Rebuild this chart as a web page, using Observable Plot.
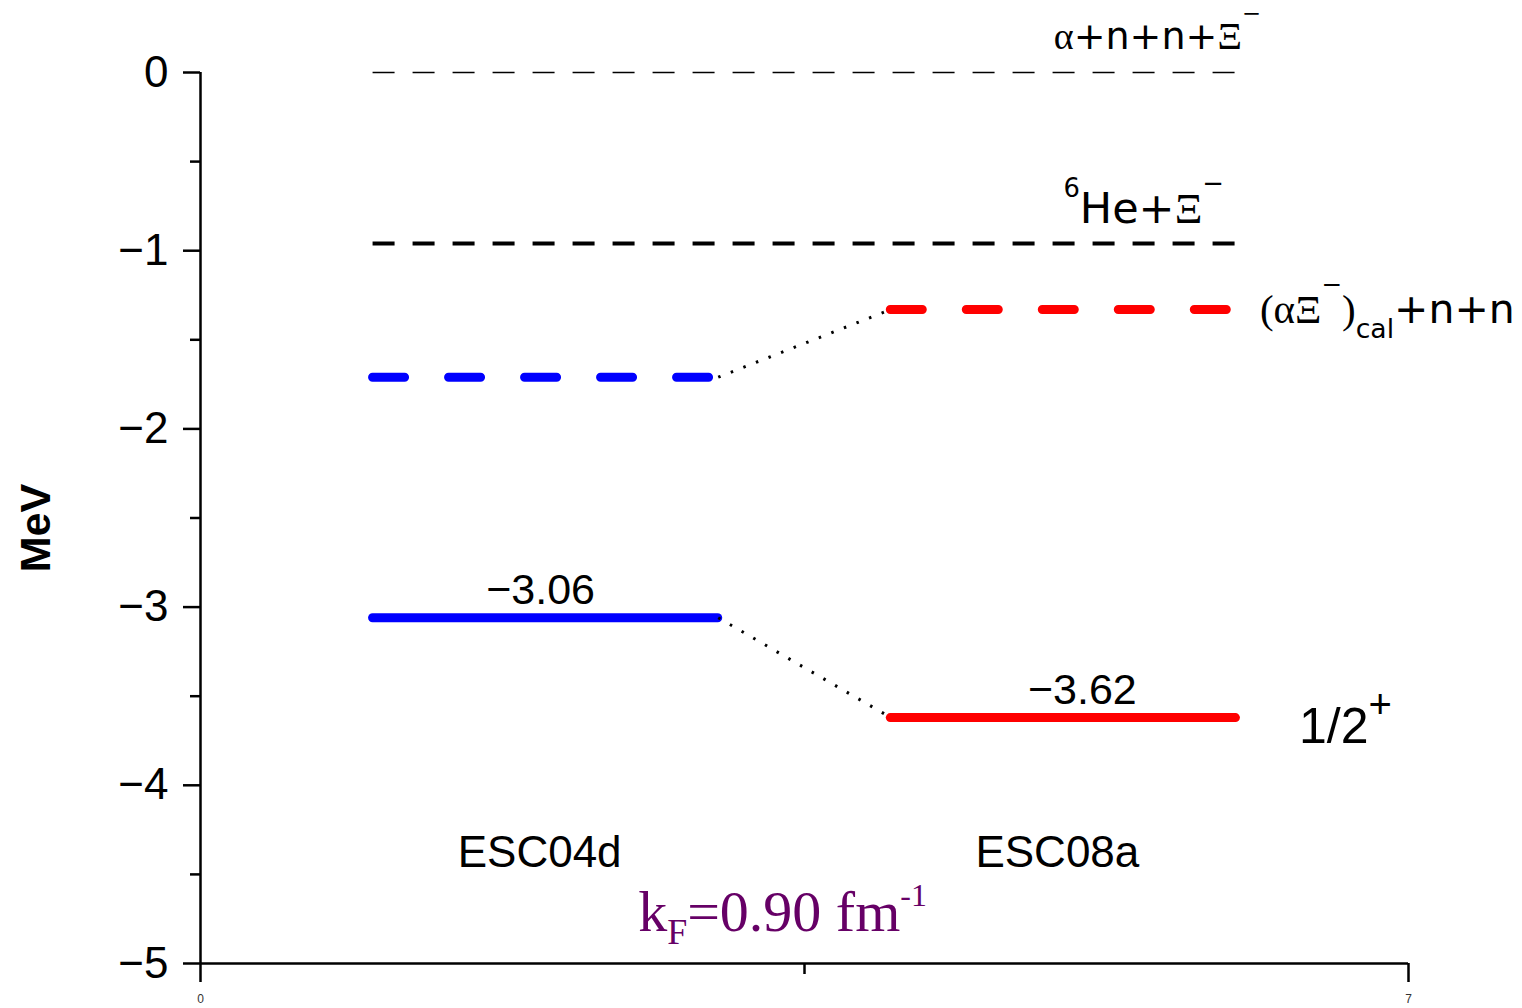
<!DOCTYPE html>
<html>
<head>
<meta charset="utf-8">
<script src="https://cdn.jsdelivr.net/npm/d3@7"></script>
<script src="https://cdn.jsdelivr.net/npm/@observablehq/plot@0.6"></script>
<style>
html, body { margin: 0; padding: 0; background: #fff; overflow: hidden; }
</style>
</head>
<body>
<div id="chart"></div>
<script>
// ---------------- data ----------------
const models = ["ESC04d", "ESC08a"];
const modelStart = [1, 4];
const modelEnd = [3, 6];
const groundState = [-3.06, -3.62];      // 1/2+ level (MeV)
const calThreshold = [-1.71, -1.33];     // (αΞ⁻)cal + n + n threshold (MeV)
const thresholdNames = ["~{α}+n+n+~{Ξ}^^{−}", "^{6}He+~{Ξ}^^{−}"];
const thresholdEnergies = [0, -0.96];
const calLabel = "~{(αΞ}^^{−}~{)}_{cal}+n+n";
const stateLabel = "1/2^[0.8,0.5]{+}";
const kfLabel = "k_[0.62,-0.24]{F}=0.90 fm^[0.55,0.42]{-1}";
const yMajorTicks = [0, -1, -2, -3, -4, -5];
const yMinorTicks = [-0.5, -1.5, -2.5, -3.5, -4.5];
const xLabelTicks = [0, 7];
const xMidTicks = [3.5];
const xDomain = [0, 7];
const yDomain = [-5, 0];

// ---------------- tables ----------------
const rows = models.map((m, i) => ({
  model: m, x1: modelStart[i], x2: modelEnd[i],
  mid: (modelStart[i] + modelEnd[i]) / 2,
  gs: groundState[i], cal: calThreshold[i]
}));
const xLo = d3.min(modelStart), xHi = d3.max(modelEnd);
const thr = thresholdNames.map((n, i) => ({name: n, e: thresholdEnergies[i], x1: xLo, x2: xHi}));
const links = [
  {x1: rows[0].x2, x2: rows[1].x1, y1: rows[0].gs, y2: rows[1].gs},
  {x1: rows[0].x2, x2: rows[1].x1, y1: rows[0].cal, y2: rows[1].cal}
];
const fmt = d3.format(".2f");
const SANS = "Liberation Sans, Arial, sans-serif";
const WIDE = "DejaVu Sans, Liberation Sans, sans-serif";
const SERIF = "Liberation Serif, Times New Roman, serif";

const svg = Plot.plot({
  width: 1522,
  height: 1008,
  marginLeft: 200,
  marginRight: 114,
  marginTop: 72,
  marginBottom: 45,
  style: {fontFamily: SANS, background: "#fff", color: "#000"},
  x: {domain: xDomain, label: null},
  y: {domain: yDomain, label: null},
  color: {domain: models, range: ["#0000ff", "#ff0000"]},
  marks: [
    // axes
    Plot.ruleX([xDomain[0]], {strokeWidth: 2.5}),
    Plot.ruleY([yDomain[0]], {strokeWidth: 2.5}),
    Plot.axisY(yMajorTicks, {tickSize: 17, tickPadding: 15, fontSize: 44, fontFamily: SANS,
      strokeWidth: 2.5, tickFormat: d3.format("d"), label: null}),
    Plot.axisY(yMinorTicks, {tickSize: 10, strokeWidth: 2.5, tickFormat: () => "", label: null}),
    Plot.axisX(xLabelTicks, {tickSize: 19, tickPadding: 12, fontSize: 12, strokeWidth: 2.5,
      tickFormat: d3.format("d"), label: null, fill: "#333"}),
    Plot.axisX(xMidTicks, {tickSize: 11, strokeWidth: 2.5, tickFormat: () => "", label: null}),

    // thresholds
    Plot.ruleY(thr.slice(0, 1), {y: "e", x1: "x1", x2: "x2", stroke: "#000", strokeWidth: 1.5, strokeDasharray: "22,18"}),
    Plot.ruleY(thr.slice(1, 2), {y: "e", x1: "x1", x2: "x2", stroke: "#000", strokeWidth: 4, strokeDasharray: "22,18"}),

    // (αΞ)cal + n + n
    Plot.ruleY(rows, {y: "cal", x1: "x1", x2: "x2", stroke: "model", strokeWidth: 9,
      strokeLinecap: "round", strokeDasharray: "32,44"}),
    // 1/2+ ground state
    Plot.ruleY(rows, {y: "gs", x1: "x1", x2: "x2", stroke: "model", strokeWidth: 9, strokeLinecap: "round"}),
    // connectors
    Plot.link(links, {x1: "x1", y1: "y1", x2: "x2", y2: "y2", stroke: "#000", strokeWidth: 3,
      strokeDasharray: "2.5,11"}),

    // labels
    Plot.text(thr.slice(0, 1), {x: "x2", y: "e", text: "name", textAnchor: "end", lineAnchor: "bottom",
      dx: 25, dy: -24, fontSize: 38, fontFamily: WIDE}),
    Plot.text(thr.slice(1, 2), {x: "x2", y: "e", text: "name", textAnchor: "end", lineAnchor: "bottom",
      dx: -12, dy: -21, fontSize: 43, fontFamily: WIDE}),
    Plot.text(rows.slice(1, 2), {x: "x2", y: "cal", text: () => calLabel, textAnchor: "start", lineAnchor: "bottom",
      dx: 24, dy: 13, fontSize: 41, fontFamily: WIDE}),
    Plot.text(rows.slice(0, 1), {x: "mid", y: "gs", text: d => fmt(d.gs), lineAnchor: "bottom",
      dx: -5, dy: -14, fontSize: 43, fontFamily: SANS}),
    Plot.text(rows.slice(1, 2), {x: "mid", y: "gs", text: d => fmt(d.gs), lineAnchor: "bottom",
      dx: 19, dy: -14, fontSize: 43, fontFamily: SANS}),
    Plot.text(rows.slice(1, 2), {x: "x2", y: "gs", text: () => stateLabel, textAnchor: "start", lineAnchor: "bottom",
      dx: 63, dy: 25, fontSize: 50, fontFamily: SANS}),
    Plot.text(rows, {x: "mid", frameAnchor: "bottom", text: "model", lineAnchor: "bottom",
      dx: -6, dy: -97, fontSize: 44, fontFamily: SANS}),
    Plot.text([kfLabel], {frameAnchor: "bottom", lineAnchor: "bottom", dx: -22, dy: -33,
      fontSize: 58, fontFamily: SERIF, fill: "#660066"}),
    Plot.text(["MeV"], {frameAnchor: "left", textAnchor: "middle", rotate: -90, dx: -164, dy: 10,
      fontSize: 43, fontWeight: "bold"})
  ]
});
document.getElementById("chart").append(svg);

// ---------------- rich text (super/subscripts, serif glyphs) ----------------
const NS = "http://www.w3.org/2000/svg";
const defaults = {"^": [0.6, 0.6, false], "^^": [0.6, 0.72, false], "_": [0.65, -0.37, false], "~": [1, 0, true]};
svg.querySelectorAll("text").forEach(t => {
  const s = t.textContent;
  if (!/(\^\^|\^|_|~)(\[[^\]]*\])?\{/.test(s)) return;
  const fs = parseFloat(getComputedStyle(t).fontSize);
  t.textContent = "";
  const re = /(\^\^|\^|_|~)(?:\[([^\]]*)\])?\{([^}]*)\}/g;
  let last = 0, cur = 0, m;
  const add = (str, size, shift, serif) => {
    if (!str) return;
    const sp = document.createElementNS(NS, "tspan");
    const sh = shift * fs;
    const dy = cur - sh;
    if (dy !== 0) sp.setAttribute("dy", dy + "px");
    cur = sh;
    if (size !== 1) sp.setAttribute("font-size", (size * fs) + "px");
    if (serif) sp.setAttribute("font-family", SERIF);
    sp.textContent = str;
    t.appendChild(sp);
  };
  while ((m = re.exec(s))) {
    add(s.slice(last, m.index), 1, 0, false);
    let [size, shift, serif] = defaults[m[1]];
    if (m[2]) { const p = m[2].split(",").map(Number); size = p[0]; shift = p[1]; }
    add(m[3], size, shift, serif);
    last = re.lastIndex;
  }
  add(s.slice(last), 1, 0, false);
});
</script>
</body>
</html>
